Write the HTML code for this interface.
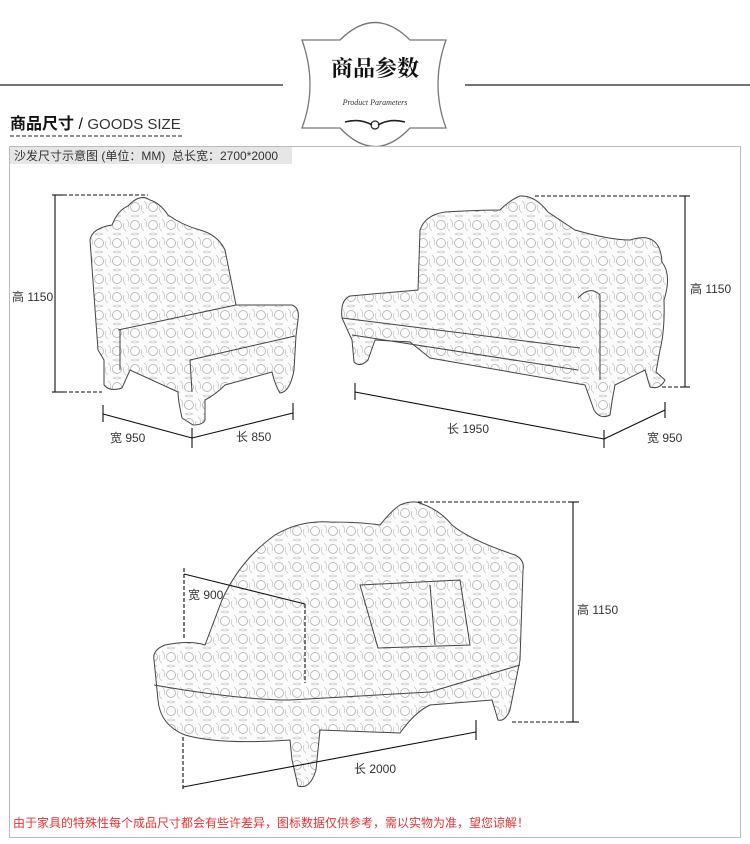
<!DOCTYPE html>
<html><head><meta charset="utf-8"><style>
body{margin:0;background:#fff;width:750px;height:844px;overflow:hidden;font-family:"Liberation Sans","Noto Sans CJK SC",sans-serif}
</style></head><body>
<svg width="750" height="844" viewBox="0 0 750 844" xmlns="http://www.w3.org/2000/svg" style="position:absolute;left:0;top:0">
<defs>
<pattern id="p" width="18" height="18" patternUnits="userSpaceOnUse">
<rect width="18" height="18" fill="#fbfbfb"/>
<circle cx="9" cy="9" r="4.5" fill="none" stroke="#aaa" stroke-width="0.7"/>
<path d="M0 3 Q4 6 2 11 M18 15 Q14 12 16 7 M5 0 Q9 2 13 0 M5 18 Q9 16 13 18" stroke="#bbb" fill="none" stroke-width="0.6"/>
</pattern>
</defs>
<!-- header -->
<line x1="0" y1="85" x2="283" y2="85" stroke="#222" stroke-width="1.2"/>
<line x1="465" y1="85" x2="750" y2="85" stroke="#222" stroke-width="1.2"/>
<path d="M302,40 L340,40 Q375,5 410,40 L446,40 Q430,85 446,128 L410,128 Q375,165 340,128 L302,128 Q318,85 302,40 Z" fill="#fff" stroke="#777" stroke-width="1.3"/>
<text x="375" y="76" text-anchor="middle" font-family="'Noto Serif CJK SC',serif" font-weight="bold" font-size="22" fill="#111">商品参数</text>
<text x="375" y="105" text-anchor="middle" font-family="'Liberation Serif',serif" font-style="italic" font-size="8" fill="#333">Product Parameters</text>
<path d="M345,122 Q360,118 372,125 M405,122 Q390,118 378,125" stroke="#222" stroke-width="1.6" fill="none"/>
<circle cx="375" cy="125" r="4" fill="none" stroke="#222" stroke-width="1.2"/>
<!-- section title -->
<text x="10" y="129" font-size="16" font-weight="bold" fill="#111">商品尺寸 <tspan font-weight="normal">/</tspan> <tspan font-weight="normal" fill="#333" font-size="15">GOODS SIZE</tspan></text>
<line x1="10" y1="136" x2="182" y2="136" stroke="#222" stroke-dasharray="4,2"/>
<!-- box -->
<rect x="9.5" y="146.5" width="731" height="691" fill="none" stroke="#bbb"/>
<rect x="10" y="147" width="282" height="17" fill="#e6e6e6"/>
<text x="14" y="160" font-size="12" fill="#333">沙发尺寸示意图 (单位：MM)&#160;&#160;总长宽：2700*2000</text>

<g stroke="#444" stroke-width="1" fill="url(#p)">
<!-- chair -->
<path d="M90,240 Q92,228 112,225 Q118,210 128,206 Q140,193 150,200 Q160,203 168,215 Q182,225 200,230 Q218,235 225,250 L236,305 L292,305 Q300,308 298,320 L296,336 L294,370 Q290,392 280,393 Q275,385 272,372 L225,385 Q215,395 205,400 L205,420 Q203,425 193,425 L182,418 Q178,400 178,392 L130,370 L122,388 Q110,392 104,385 L104,360 L98,350 Z"/>
<path d="M118,330 L236,305 M120,330 L120,370 M190,360 L295,336 M190,360 L192,392" fill="none"/>
<!-- sofa -->
<path d="M420,230 Q425,215 445,212 Q480,210 500,210 Q510,200 520,196 Q535,195 548,212 Q560,220 575,230 Q610,240 630,240 Q660,230 662,262 Q672,275 664,300 Q665,330 660,350 L656,372 L665,380 Q660,390 650,387 L645,370 L615,385 Q612,400 610,415 Q600,420 594,410 L585,385 L430,358 L410,342 L375,340 L368,360 Q360,368 354,362 L352,340 L342,318 Q340,300 350,296 L418,290 Z"/>
<path d="M342,318 L580,348 M352,335 L578,370 M578,298 Q590,285 600,295 L600,380" fill="none"/>
<!-- chaise -->
<path d="M222,600 Q240,560 275,535 Q300,520 330,522 Q360,522 380,525 Q392,510 400,505 Q412,500 420,503 Q440,510 452,525 Q470,540 515,555 Q525,560 523,570 L520,660 L510,710 Q505,722 498,720 L492,700 L430,705 Q415,712 400,733 L320,730 L316,770 Q310,790 298,786 L292,760 L290,740 Q220,745 185,735 Q160,725 158,700 L154,660 Q152,650 165,645 Q190,640 205,645 Z"/>
<path d="M154,685 Q240,700 290,700 L430,692 L520,665 M360,585 L460,580 L470,645 L378,648 Z M430,585 L435,645" fill="none"/>
</g>

<!-- dimension lines -->
<g stroke="#111" stroke-width="1.1" fill="none">
<line x1="55" y1="195" x2="55" y2="392"/>
<line x1="52" y1="195" x2="63" y2="195"/><line x1="52" y1="392" x2="63" y2="392"/>
<line x1="63" y1="195" x2="148" y2="195" stroke-dasharray="4,2"/>
<line x1="63" y1="392" x2="102" y2="392" stroke-dasharray="4,2"/>
<line x1="103" y1="414" x2="192" y2="438"/><line x1="103" y1="405" x2="103" y2="422"/>
<line x1="192" y1="428" x2="192" y2="448"/>
<line x1="192" y1="438" x2="293" y2="413"/><line x1="293" y1="403" x2="293" y2="420"/>

<line x1="685" y1="196" x2="685" y2="387"/>
<line x1="680" y1="196" x2="690" y2="196"/><line x1="680" y1="387" x2="690" y2="387"/>
<line x1="535" y1="196" x2="680" y2="196" stroke-dasharray="4,2"/>
<line x1="662" y1="387" x2="680" y2="387" stroke-dasharray="4,2"/>
<line x1="355" y1="392" x2="604" y2="439"/><line x1="355" y1="383" x2="355" y2="400"/>
<line x1="604" y1="430" x2="604" y2="448"/>
<line x1="604" y1="439" x2="665" y2="410"/><line x1="665" y1="402" x2="665" y2="418"/>

<line x1="573" y1="502" x2="573" y2="722"/>
<line x1="568" y1="502" x2="579" y2="502"/><line x1="568" y1="722" x2="579" y2="722"/>
<line x1="418" y1="502" x2="568" y2="502" stroke-dasharray="4,2"/>
<line x1="512" y1="722" x2="568" y2="722" stroke-dasharray="4,2"/>
<line x1="184" y1="568" x2="184" y2="640" stroke-dasharray="4,2"/>
<line x1="184" y1="574" x2="305" y2="604"/>
<line x1="305" y1="604" x2="305" y2="683" stroke-dasharray="4,2"/>
<line x1="183" y1="737" x2="183" y2="790" stroke-dasharray="4,2"/>
<line x1="183" y1="787" x2="476" y2="732"/>
<line x1="476" y1="720" x2="476" y2="740"/>
</g>
<g font-size="12" fill="#333">
<text x="12" y="301">高 1150</text>
<text x="110" y="442">宽 950</text>
<text x="236" y="441">长 850</text>
<text x="690" y="293">高 1150</text>
<text x="447" y="433">长 1950</text>
<text x="647" y="442">宽 950</text>
<text x="577" y="614">高 1150</text>
<text x="188" y="599">宽 900</text>
<text x="354" y="773">长 2000</text>
</g>
<text x="13" y="827" font-size="12" fill="#e53333">由于家具的特殊性每个成品尺寸都会有些许差异，图标数据仅供参考，需以实物为准，望您谅解！</text>
</svg>
</body></html>
